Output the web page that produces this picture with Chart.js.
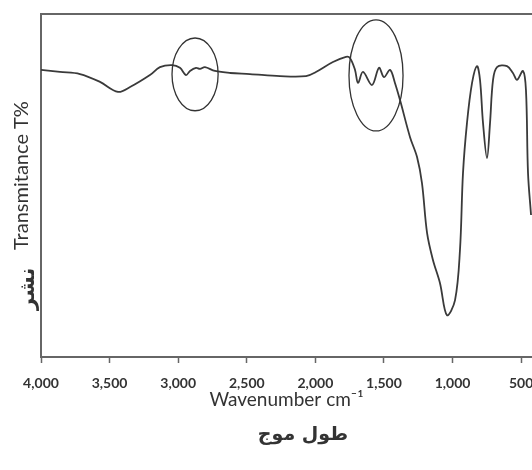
<!DOCTYPE html>
<html lang="en">
<head>
  <meta charset="UTF-8">
  <title>IR Spectrum</title>
  <script src="https://cdn.jsdelivr.net/npm/chart.js"></script>
  <style>
    body { margin: 0; background: #fff; overflow: hidden; }
    #wrap { width: 532px; height: 470px; }
  </style>
</head>
<body>
  <div id="wrap"><canvas id="irChart"></canvas></div>
  <script>
    // spectrum (wavenumber, transmittance on a 0-100 frame)
    const wavenumbers = [4000, 3862, 3716, 3570, 3439, 3351, 3206, 3133, 3045, 2987, 2943, 2914, 2870, 2841, 2805, 2732, 2622, 2477, 2258, 2068, 1996, 1872, 1777, 1748, 1711, 1689, 1653, 1587, 1536, 1500, 1456, 1420, 1383, 1310, 1259, 1223, 1186, 1143, 1092, 1041, 982, 946, 924, 895, 858, 822, 800, 778, 749, 727, 705, 676, 603, 560, 530, 487, 465, 450, 428];
    const transmittance = [83.7, 83.1, 82.5, 80.2, 77.3, 78.7, 82.2, 84.5, 85.1, 84.3, 82.2, 83.4, 84.3, 84.0, 84.5, 83.4, 82.8, 82.5, 81.9, 81.9, 83.1, 86.0, 87.5, 87.2, 83.7, 79.9, 83.1, 79.3, 84.3, 81.6, 83.7, 79.9, 74.9, 64.1, 58.3, 50.7, 36.2, 28.3, 21.6, 12.2, 16.6, 31.2, 53.6, 68.2, 79.9, 84.8, 80.8, 68.2, 58.0, 68.2, 80.8, 84.5, 84.8, 82.8, 80.8, 83.4, 77.8, 53.6, 41.4];
    const xTicks = [4000, 3500, 3000, 2500, 2000, 1500, 1000, 500];

    // the two hand-drawn circles: centre and radii in data units
    const circleX = [2877, 1558];
    const circleY = [82.4, 82.1];
    const circleRX = [168, 197];
    const circleRY = [10.6, 16.2];

    const xMin = 421, xMax = 4000;

    const markup = {
      id: 'markup',
      afterDatasetsDraw(chart) {
        const { ctx, scales: { x, y } } = chart;
        ctx.save();
        ctx.strokeStyle = '#333';
        ctx.lineWidth = 1.3;
        circleX.forEach((cx, i) => {
          const px = x.getPixelForValue(cx);
          const py = y.getPixelForValue(circleY[i]);
          const rx = Math.abs(x.getPixelForValue(cx + circleRX[i]) - px);
          const ry = Math.abs(y.getPixelForValue(circleY[i] + circleRY[i]) - py);
          ctx.beginPath();
          ctx.ellipse(px, py, rx, ry, 0, 0, Math.PI * 2);
          ctx.stroke();
        });
        ctx.restore();
      },
      afterDraw(chart) {
        const ctx = chart.ctx;
        ctx.save();
        ctx.fillStyle = '#333';
        ctx.textBaseline = 'middle';
        // y title, rotated
        ctx.save();
        ctx.translate(22, 250);
        ctx.rotate(-Math.PI / 2);
        ctx.textAlign = 'left';
        ctx.font = '20px Lato';
        ctx.fillText('Transmitance T%', 0, 0);
        ctx.restore();
        ctx.save();
        ctx.translate(29, 310);
        ctx.rotate(-Math.PI / 2);
        ctx.textAlign = 'left';
        ctx.font = 'bold 21px "DejaVu Sans"';
        ctx.fillText('نشر', 0, 0);
        ctx.restore();
        // arabic x title
        ctx.textAlign = 'center';
        ctx.font = 'bold 19px "DejaVu Sans"';
        ctx.fillText('طول موج', 303, 435);
        ctx.restore();
      }
    };

    new Chart(document.getElementById('irChart'), {
      type: 'line',
      data: {
        datasets: [{
          data: wavenumbers.map((w, i) => ({ x: w, y: transmittance[i] })),
          borderColor: '#3a3a3a',
          borderWidth: 1.8,
          pointRadius: 0,
          tension: 0.35,
          fill: false
        }]
      },
      options: {
        responsive: true,
        maintainAspectRatio: false,
        animation: false,
        layout: { padding: 0 },
        plugins: { legend: { display: false }, tooltip: { enabled: false } },
        scales: {
          x: {
            type: 'linear',
            reverse: true,
            min: xMin,
            max: xMax,
            afterBuildTicks: axis => { axis.ticks = xTicks.map(v => ({ value: v })); },
            ticks: {
              autoSkip: false,
              maxRotation: 0,
              padding: 12,
              color: '#333',
              font: { family: 'Lato', size: 14, weight: 'bold' },
              callback: v => v.toLocaleString('en-US')
            },
            grid: { display: true, drawOnChartArea: false, tickLength: 6, color: '#666', tickWidth: 1.5 },
            border: { display: true, color: '#666', width: 2 },
            title: {
              display: true,
              text: 'Wavenumber cm⁻¹',
              color: '#333',
              font: { family: 'Lato', size: 19 },
              padding: { top: 0, bottom: 59 }
            },
            afterFit: axis => {
              axis.height = 113;
              axis.paddingLeft = 0;
              axis.paddingRight = 0;
            }
          },
          x2: {
            type: 'linear',
            position: 'top',
            reverse: true,
            min: xMin,
            max: xMax,
            ticks: { display: false },
            grid: { display: false },
            border: { display: true, color: '#666', width: 2 },
            afterFit: axis => { axis.height = 14; }
          },
          y: {
            min: 0,
            max: 100,
            ticks: { display: false },
            grid: { display: false },
            border: { display: true, color: '#666', width: 2 },
            afterFit: axis => { axis.width = 41; }
          }
        }
      },
      plugins: [markup]
    });
  </script>
</body>
</html>
